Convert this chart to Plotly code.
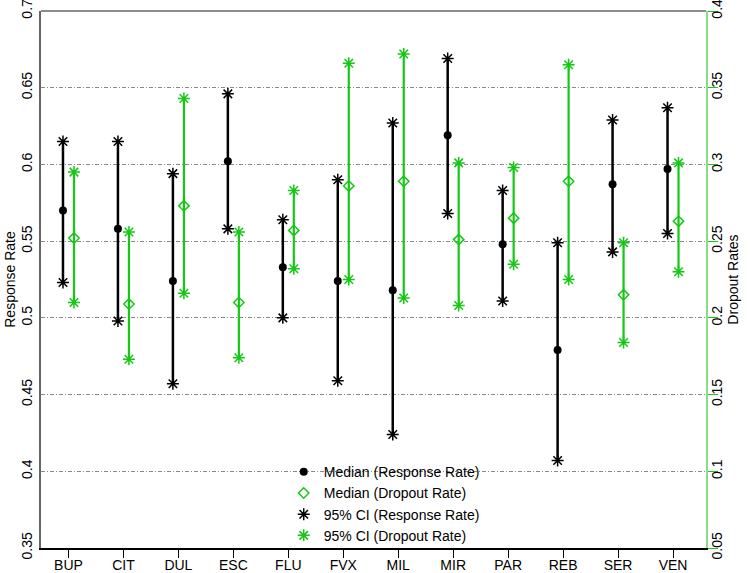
import plotly.graph_objects as go

categories = ["BUP", "CIT", "DUL", "ESC", "FLU", "FVX", "MIL", "MIR", "PAR", "REB", "SER", "VEN"]

resp_median = [0.570, 0.558, 0.524, 0.602, 0.533, 0.524, 0.518, 0.619, 0.548, 0.479, 0.587, 0.597]
resp_upper = [0.615, 0.615, 0.594, 0.646, 0.564, 0.590, 0.627, 0.669, 0.583, 0.549, 0.629, 0.637]
resp_lower = [0.523, 0.498, 0.457, 0.558, 0.500, 0.459, 0.424, 0.568, 0.511, 0.407, 0.543, 0.555]

drop_median = [0.252, 0.209, 0.273, 0.210, 0.257, 0.286, 0.289, 0.251, 0.265, 0.289, 0.215, 0.263]
drop_upper = [0.295, 0.256, 0.343, 0.256, 0.283, 0.366, 0.372, 0.301, 0.298, 0.365, 0.249, 0.301]
drop_lower = [0.210, 0.173, 0.216, 0.174, 0.232, 0.225, 0.213, 0.208, 0.235, 0.225, 0.184, 0.230]

left_ticks = [0.35, 0.4, 0.45, 0.5, 0.55, 0.6, 0.65, 0.7]
left_labels = ["0.35", "0.4", "0.45", "0.5", "0.55", "0.6", "0.65", "0.7"]
right_ticks = [0.05, 0.1, 0.15, 0.2, 0.25, 0.3, 0.35, 0.4]
right_labels = ["0.05", "0.1", "0.15", "0.2", "0.25", "0.3", "0.35", "0.4"]

BLACK = "#000000"
GREEN = "#14c814"
FONT = "Liberation Sans, Arial, sans-serif"
OFFSET = 0.1

idx = list(range(1, len(categories) + 1))
xb = [i - OFFSET for i in idx]
xg = [i + OFFSET for i in idx]


def seg(xs, lo, hi):
    X, Y = [], []
    for x, a, b in zip(xs, lo, hi):
        X += [x, x, None]
        Y += [a, b, None]
    return X, Y


fig = go.Figure()

# CI lines
bx, by = seg(xb, resp_lower, resp_upper)
fig.add_trace(go.Scatter(x=bx, y=by, mode="lines", line=dict(color=BLACK, width=2.5),
                         showlegend=False, hoverinfo="skip", yaxis="y"))
gx, gy = seg(xg, drop_lower, drop_upper)
fig.add_trace(go.Scatter(x=gx, y=gy, mode="lines", line=dict(color=GREEN, width=2.2),
                         showlegend=False, hoverinfo="skip", yaxis="y2"))

# Medians
fig.add_trace(go.Scatter(x=xb, y=resp_median, mode="markers", name="Median (Response Rate)",
                         marker=dict(symbol="circle", size=8, color=BLACK), yaxis="y"))
fig.add_trace(go.Scatter(x=xg, y=drop_median, mode="markers", name="Median (Dropout Rate)",
                         marker=dict(symbol="diamond-open", size=8, color=GREEN,
                                     line=dict(color=GREEN, width=1.5)), yaxis="y2"))

# CI endpoints
fig.add_trace(go.Scatter(x=xb + xb, y=resp_upper + resp_lower, mode="markers",
                         name="95% CI (Response Rate)",
                         marker=dict(symbol="asterisk-open", size=10, color=BLACK,
                                     line=dict(color=BLACK, width=1.5)), yaxis="y"))
fig.add_trace(go.Scatter(x=xg + xg, y=drop_upper + drop_lower, mode="markers",
                         name="95% CI (Dropout Rate)",
                         marker=dict(symbol="asterisk-open", size=10, color=GREEN,
                                     line=dict(color=GREEN, width=1.5)), yaxis="y2"))

fig.update_layout(
    width=750, height=573,
    margin=dict(l=41, r=44, t=11, b=25, autoexpand=False),
    paper_bgcolor="white", plot_bgcolor="white",
    font=dict(family=FONT, size=14, color="#000"),
    showlegend=True,
    legend=dict(x=0.365, y=0.171, xanchor="left", yanchor="top",
                bgcolor="rgba(0,0,0,0)", borderwidth=0,
                font=dict(family=FONT, size=14), itemwidth=30, tracegroupgap=0),
    xaxis=dict(range=[0.5, 12.6], tickmode="array", tickvals=idx, ticktext=categories,
               automargin=False, ticklabelstandoff=-5,
               showgrid=False, zeroline=False, showline=True, linecolor="#000", linewidth=1.5,
               ticks="outside", ticklen=8, tickcolor="#000", tickfont=dict(size=14)),
    yaxis=dict(range=[0.35, 0.7], tickmode="array", tickvals=left_ticks, ticktext=left_labels,
               tickangle=-90, ticklabelstandoff=2, ticklabeloverflow="allow", automargin=False,
               showgrid=True, gridcolor="#8a8a8a", griddash="4px,2px,1px,2px", gridwidth=0.7,
               zeroline=False, showline=True, linecolor="#666", linewidth=1.5,
               ticks="", title=dict(text="Response Rate", font=dict(size=14), standoff=0),
               tickfont=dict(size=14)),
    yaxis2=dict(range=[0.05, 0.4], tickmode="array", tickvals=right_ticks, ticktext=right_labels,
                tickangle=-90, ticklabelstandoff=-13, ticklabeloverflow="allow", automargin=False,
                overlaying="y", side="right", showgrid=False, zeroline=False,
                showline=True, linecolor="#88dd88", linewidth=1.5,
                ticks="outside", ticklen=10, tickcolor=GREEN,
                title=dict(text="Dropout Rates", font=dict(size=14), standoff=2),
                tickfont=dict(size=14)),
    shapes=[dict(type="line", xref="paper", yref="paper", x0=0, x1=1, y0=1, y1=1,
                 line=dict(color="#666", width=1.5))],
)

fig.write_html("out.html", config={"displayModeBar": False},
               post_script="document.body.style.margin='0';")
